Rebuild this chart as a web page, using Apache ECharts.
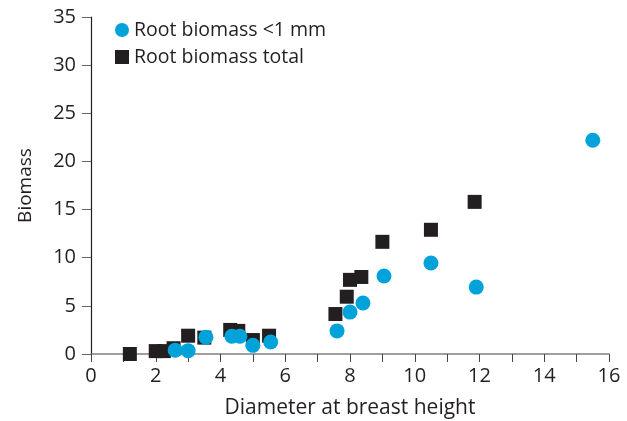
<!DOCTYPE html>
<html>
<head>
<meta charset="utf-8">
<script src="https://cdn.jsdelivr.net/npm/echarts@6/dist/echarts.min.js"></script>
<style>
  html, body { margin: 0; padding: 0; background: #fff; }
  #main { width: 627px; height: 421px; }
</style>
</head>
<body>
<div id="main"></div>
<script>
// root biomass <1 mm: [diameter, biomass]
var fineRoots = [
  [2.6, 0.4], [3.0, 0.35], [3.55, 1.75], [4.35, 1.85], [4.6, 1.85],
  [5.0, 0.9], [5.55, 1.25], [7.6, 2.4], [8.0, 4.35], [8.4, 5.3],
  [9.05, 8.1], [10.5, 9.45], [11.9, 6.95], [15.5, 22.2]
];
// root biomass total
var totalRoots = [
  [1.2, 0.0], [2.0, 0.3], [2.25, 0.3], [2.55, 0.6], [3.0, 1.9],
  [3.5, 1.7], [4.3, 2.5], [4.55, 2.4], [5.0, 1.45], [5.5, 1.9],
  [7.55, 4.15], [7.9, 5.95], [8.0, 7.7], [8.35, 8.0], [9.0, 11.65],
  [10.5, 12.9], [11.85, 15.8]
];
var seriesNames = ["Root biomass <1 mm", "Root biomass total"];

var chart = echarts.init(document.getElementById("main"));
var font = "Open Sans";
chart.setOption({
  animation: false,
  textStyle: { fontFamily: font },
  grid: { left: 91, right: 18, top: 17, bottom: 67, outerBoundsMode: "none" },
  legend: {
    data: seriesNames,
    orient: "vertical",
    left: 110,
    top: 15,
    itemWidth: 14,
    itemHeight: 14,
    itemGap: 7,
    textStyle: { fontSize: 19.5, lineHeight: 20, color: "#231f20", fontFamily: font }
  },
  xAxis: {
    type: "value",
    min: 0,
    max: 16,
    interval: 1,
    name: "Diameter at breast height",
    nameLocation: "middle",
    nameGap: 44,
    nameTextStyle: { fontSize: 21, color: "#231f20" },
    splitLine: { show: false },
    axisLine: { lineStyle: { color: "#808080", width: 1.5 } },
    axisTick: { length: 8, lineStyle: { color: "#444" } },
    axisLabel: {
      fontSize: 20,
      color: "#231f20",
      margin: 12,
      formatter: function (v) { return v % 2 === 0 ? v : ""; }
    }
  },
  yAxis: {
    type: "value",
    min: 0,
    max: 35,
    interval: 5,
    name: "Biomass",
    nameLocation: "middle",
    nameGap: 56,
    nameTextStyle: { fontSize: 19, color: "#231f20" },
    splitLine: { show: false },
    axisLine: { show: true, lineStyle: { color: "#231f20", width: 1.2 } },
    axisTick: { show: true, length: 9, lineStyle: { color: "#666" } },
    axisLabel: { fontSize: 20, color: "#231f20", margin: 15 }
  },
  series: [
    {
      name: seriesNames[0],
      type: "scatter",
      symbol: "circle",
      symbolSize: 15,
      z: 3,
      itemStyle: { color: "#00a3d9", opacity: 1 },
      data: fineRoots
    },
    {
      name: seriesNames[1],
      type: "scatter",
      symbol: "rect",
      symbolSize: 14,
      z: 2,
      itemStyle: { color: "#231f20", opacity: 1 },
      data: totalRoots
    }
  ]
});
</script>
</body>
</html>
